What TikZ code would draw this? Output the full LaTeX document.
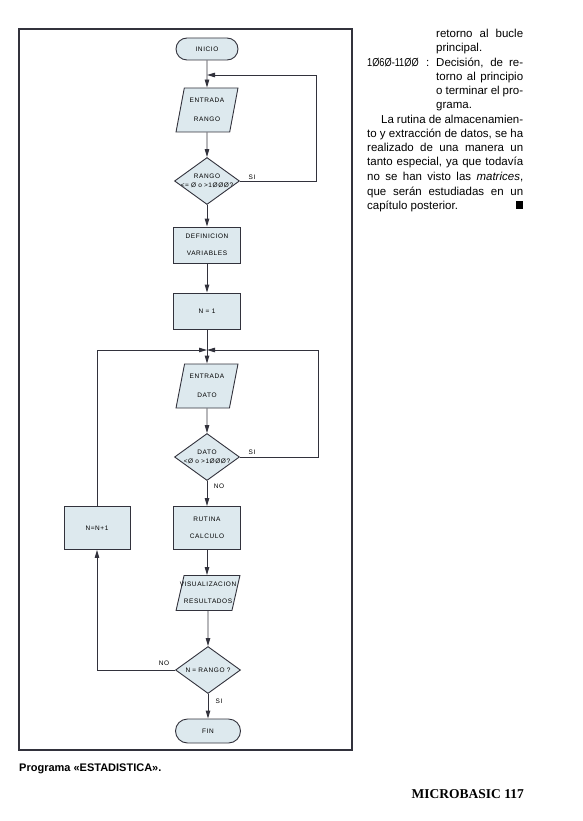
\documentclass[tikz,border=0pt]{standalone}
\usepackage{fontspec}
\usepackage{graphicx}
\setmainfont{Liberation Sans}
\newfontfamily\chartfont[LetterSpace=9]{Liberation Sans}
\newfontfamily\footfont{Liberation Serif}
\usetikzlibrary{shapes.geometric,shapes.misc,arrows.meta}
\definecolor{boxfill}{RGB}{221,233,238}
\definecolor{ink}{RGB}{50,50,60}
\newcommand{\chartsize}{\chartfont\fontsize{6.5}{7.5}\selectfont}
% a line of chart text that may run past the shape
\newcommand{\chartline}[1]{\makebox[0pt]{#1}}
\tikzset{
    chart/.style={draw=ink, fill=boxfill, line width=0.9pt, inner sep=0pt, font=\chartsize, align=center},
    terminal/.style={chart, rounded rectangle, minimum width=62, minimum height=22},
    process/.style={chart, rectangle, minimum width=67, minimum height=36},
    inout/.style={chart, trapezium, trapezium left angle=81, trapezium right angle=99,
        trapezium stretches=true, text width=20pt, minimum width=62, minimum height=44},
    decision/.style={chart, diamond, text width=8pt, minimum width=65, minimum height=47},
    flow/.style={draw=ink, line width=0.9pt, -{Triangle[length=8pt,width=4.5pt]}},
    tag/.style={font=\chartsize, inner sep=0pt},
    body/.style={anchor=base west, inner sep=0pt, font=\fontsize{11.5}{14}\selectfont}
}
\begin{document}
\begin{tikzpicture}[x=1pt,y=-1pt]
    \useasboundingbox (0,0) rectangle (582,821);
    % Frame round the chart
    \draw[ink, line width=1.3pt] (19,29) rectangle (352,750);

    % Main column
    \node[terminal] (inicio) at (207,49) {INICIO};
    \node[inout] (entrango) at (207,110) {\chartline{ENTRADA}\\[11pt]\chartline{RANGO}};
    \node[decision] (rango) at (207,181) {\chartline{RANGO}\\[2pt]\chartline{<= Ø o >1ØØØ?}};
    \node[process] (defvar) at (207,245) {DEFINICION\\[9pt]VARIABLES};
    \node[process] (ninit) at (207,311) {N = 1};
    \node[inout] (entdato) at (207,386) {\chartline{ENTRADA}\\[12pt]\chartline{DATO}};
    \node[decision] (dato) at (207,457) {\chartline{DATO}\\[1.5pt]\chartline{<Ø o >1ØØØ?}};
    \node[process, minimum height=43] (rutina) at (207,528) {RUTINA\\[9pt]CALCULO};
    \node[process, minimum height=43, minimum width=66] (ninc) at (97,528) {N=N+1};
    \node[inout, minimum height=35, minimum width=64] (visual) at (208,593) {\chartline{VISUALIZACION}\\[9pt]\chartline{RESULTADOS}};
    \node[decision] (nrango) at (208,670) {\chartline{N = RANGO ?}};
    \node[terminal, minimum width=65, minimum height=24] (fin) at (208,731) {FIN};

    % Junctions of the loops
    \coordinate (ja) at (207,75);
    \coordinate (loopa) at (316,75);
    \coordinate (jb) at (207,350);
    \coordinate (loopb) at (318,350);
    \coordinate (loopc) at (97,350);

    % Connectors
    \draw[flow] (inicio) -- (entrango);
    \draw[flow] (entrango) -- (rango);
    \draw[flow] (rango.east) -| (loopa) -- (ja);
    \draw[flow] (rango) -- (defvar);
    \draw[flow] (defvar) -- (ninit);
    \draw[flow] (ninit) -- (entdato);
    \draw[flow] (entdato) -- (dato);
    \draw[flow] (dato.east) -| (loopb) -- (jb);
    \draw[flow] (dato) -- (rutina);
    \draw[flow] (rutina.south) -- (rutina.south |- visual.north);
    \draw[flow] (visual) -- (nrango);
    \draw[flow] (nrango) -- (fin);
    \draw[flow] (nrango.west) -| (ninc.south);
    \draw[flow] (ninc.north) -- (loopc) -- (jb);

    % Branch labels
    \node[tag] (si1) at (252,177) {SI};
    \node[tag] (si2) at (252,452) {SI};
    \node[tag] (no1) at (219,486) {NO};
    \node[tag] (no2) at (164,663) {NO};
    \node[tag] (si3) at (219,701) {SI};

    % Text column
    \node[body] (t1) at (436,38) {\makebox[87pt][s]{retorno al bucle}};
    \node[body] (t2) at (436,52) {principal.};
    \node[body] (t3a) at (367,67) {\scalebox{0.8}[1]{1Ø6Ø-11ØØ}};
    \node[body] (t3b) at (426,67) {:};
    \node[body] (t3) at (436,67) {\makebox[87pt][s]{Decisión, de re-}};
    \node[body] (t4) at (436,81) {\makebox[87pt][s]{torno al principio}};
    \node[body] (t5) at (436,95) {\makebox[87pt][s]{o terminar el pro-}};
    \node[body] (t6) at (436,109) {grama.};
    \node[body] (t7) at (381,124) {\makebox[142pt][s]{La rutina de almacenamien-}};
    \node[body] (t8) at (367,138) {\makebox[156pt][s]{to y extracción de datos, se ha}};
    \node[body] (t9) at (367,152) {\makebox[156pt][s]{realizado de una manera un}};
    \node[body] (t10) at (367,166) {\makebox[156pt][s]{tanto especial, ya que todavía}};
    \node[body] (t11) at (367,180) {\makebox[156pt][s]{no se han visto las \emph{matrices},}};
    \node[body] (t12) at (367,195) {\makebox[156pt][s]{que serán estudiadas en un}};
    \node[body] (t13) at (367,209) {capítulo posterior.};
    \fill (516,201) rectangle (523,209);

    % Caption and folio
    \node[anchor=base west, inner sep=0pt, font=\bfseries\fontsize{11}{13}\selectfont] (caption) at (19,771) {Programa «ESTADISTICA».};
    \node[anchor=base east, inner sep=0pt, font=\footfont\bfseries\fontsize{13.5}{16}\selectfont] (folio) at (524,798) {MICROBASIC 117};
\end{tikzpicture}
\end{document}
